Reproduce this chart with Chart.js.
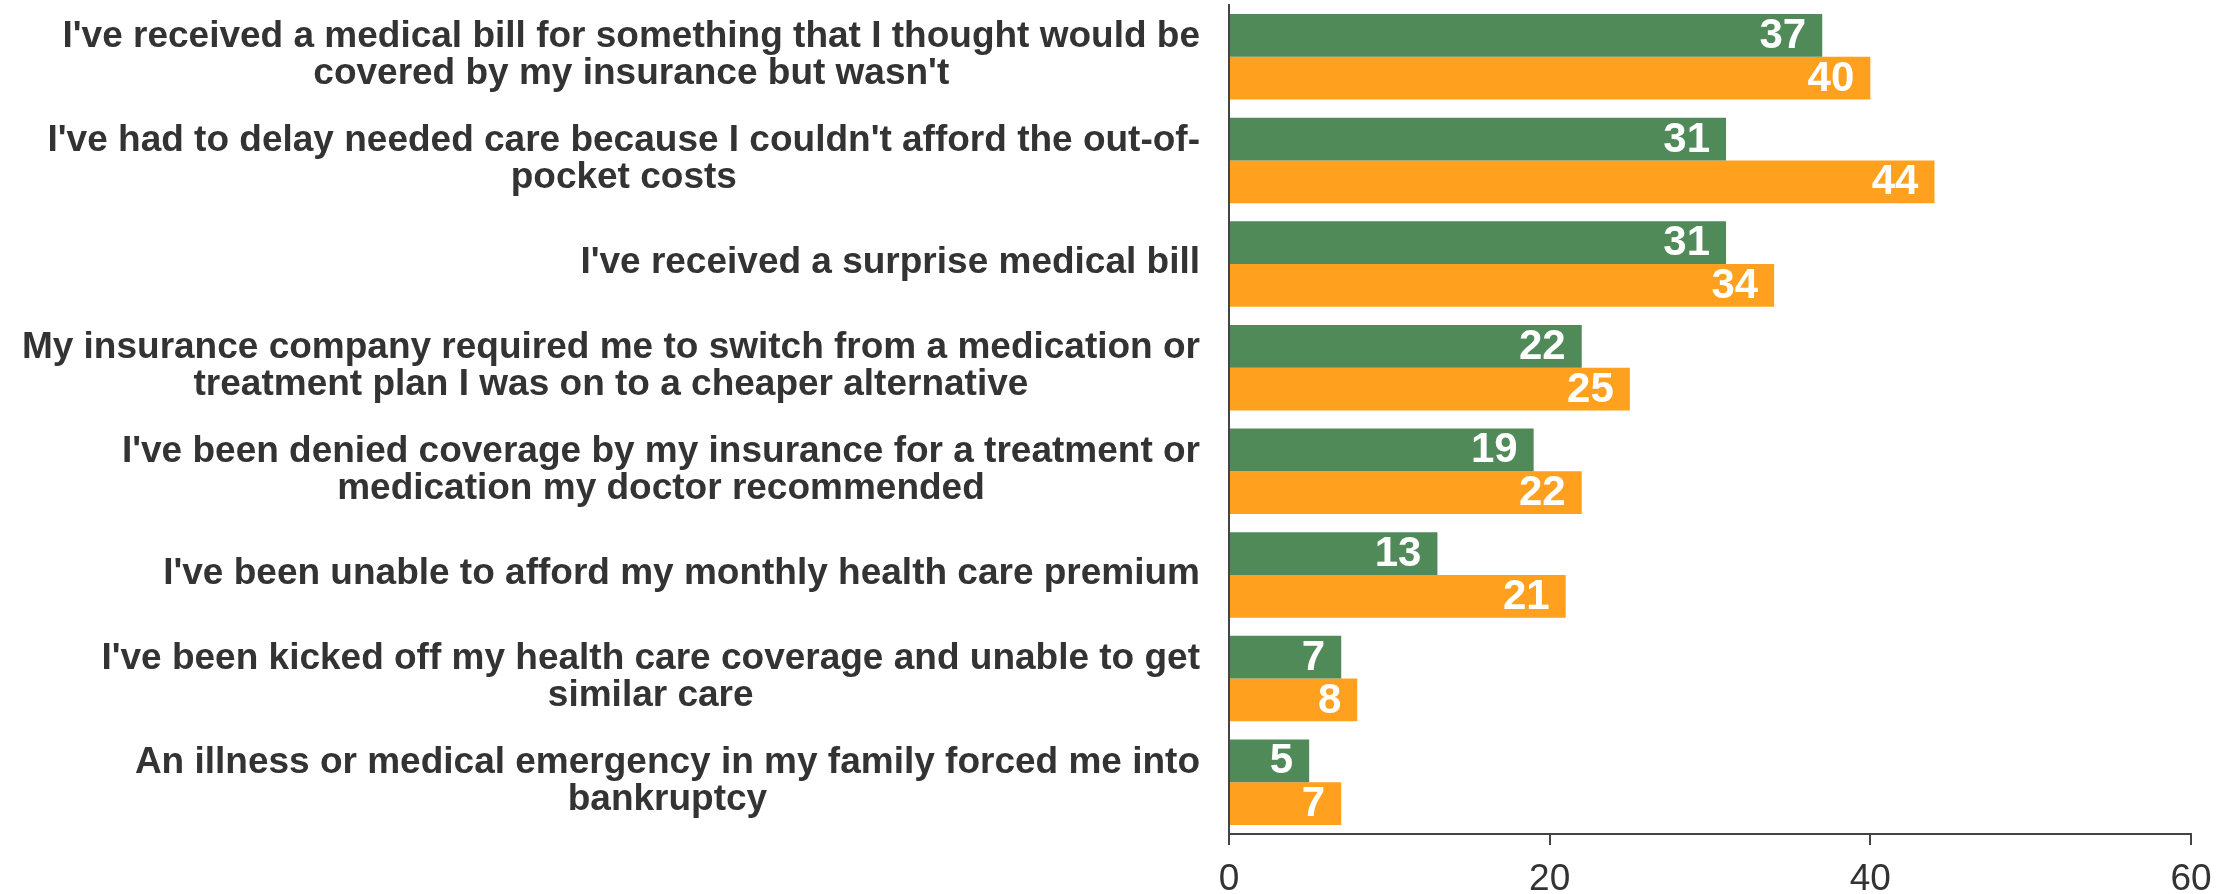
<!DOCTYPE html>
<html>
<head>
<meta charset="utf-8">
<script src="https://cdn.jsdelivr.net/npm/chart.js@4/dist/chart.umd.min.js"></script>
<style>
  html, body { margin: 0; padding: 0; background: #ffffff; }
  #wrap { width: 2225px; height: 894px; }
</style>
</head>
<body>
<div id="wrap"><canvas id="chart" width="2225" height="894"></canvas></div>
<script>
// Survey items (each entry is a list of display lines)
const categories = [
  ["I've received a medical bill for something that I thought would be", "covered by my insurance but wasn't"],
  ["I've had to delay needed care because I couldn't afford the out-of-", "pocket costs"],
  ["I've received a surprise medical bill"],
  ["My insurance company required me to switch from a medication or", "treatment plan I was on to a cheaper alternative"],
  ["I've been denied coverage by my insurance for a treatment or", "medication my doctor recommended"],
  ["I've been unable to afford my monthly health care premium"],
  ["I've been kicked off my health care coverage and unable to get", "similar care"],
  ["An illness or medical emergency in my family forced me into", "bankruptcy"]
];

// Percent of respondents, two groups
const greenValues  = [37, 31, 31, 22, 19, 13, 7, 5];
const orangeValues = [40, 44, 34, 25, 22, 21, 8, 7];

// Value axis ticks
const xTicks = [0, 20, 40, 60];

const FONT = "'Liberation Sans', Arial, Helvetica, sans-serif";
const TEXT = '#333333';
const AXIS = '#444444';

Chart.defaults.font.family = FONT;

// White value labels drawn inside the end of each bar
const barValueLabels = {
  id: 'barValueLabels',
  afterDatasetsDraw(chart) {
    const ctx = chart.ctx;
    ctx.save();
    ctx.font = 'bold 42px ' + FONT;
    ctx.fillStyle = '#ffffff';
    ctx.textAlign = 'right';
    ctx.textBaseline = 'middle';
    chart.data.datasets.forEach((ds, di) => {
      const meta = chart.getDatasetMeta(di);
      meta.data.forEach((bar, i) => {
        ctx.fillText(String(ds.data[i]), bar.x - 16, bar.y + 1);
      });
    });
    ctx.restore();
  }
};

// Category labels: each block right-aligned to the axis, lines centred within the block
const categoryLabels = {
  id: 'categoryLabels',
  afterDraw(chart) {
    const ctx = chart.ctx;
    const yScale = chart.scales.y;
    const right = chart.chartArea.left - 29;
    const lineH = 37;
    ctx.save();
    ctx.font = 'bold 37px ' + FONT;
    ctx.fillStyle = TEXT;
    ctx.textAlign = 'center';
    ctx.textBaseline = 'alphabetic';
    chart.data.labels.forEach((lines, i) => {
      const cy = yScale.getPixelForTick(i);
      const widest = Math.max(...lines.map(l => ctx.measureText(l).width));
      const cx = right - widest / 2;
      const n = lines.length;
      lines.forEach((line, k) => {
        const y = cy + 9 + (k - (n - 1) / 2) * lineH;
        ctx.fillText(line, cx, y);
      });
    });
    ctx.restore();
  }
};

new Chart(document.getElementById('chart'), {
  type: 'bar',
  data: {
    labels: categories,
    datasets: [
      { label: 'Group 1', data: greenValues,  backgroundColor: '#508A58', borderWidth: 0 },
      { label: 'Group 2', data: orangeValues, backgroundColor: '#FFA01F', borderWidth: 0 }
    ]
  },
  options: {
    indexAxis: 'y',
    responsive: false,
    animation: false,
    events: [],
    categoryPercentage: 0.826,
    barPercentage: 1.0,
    layout: { padding: { top: 5, right: 34, left: 0, bottom: 0 } },
    plugins: {
      legend: { display: false },
      tooltip: { enabled: false }
    },
    scales: {
      y: {
        type: 'category',
        offset: true,
        grid: { display: false },
        border: { display: true, color: AXIS, width: 2 },
        ticks: { display: false },
        afterFit(scale) { scale.width = 1229; }
      },
      x: {
        type: 'linear',
        min: xTicks[0],
        max: xTicks[xTicks.length - 1],
        afterBuildTicks(scale) { scale.ticks = xTicks.map(v => ({ value: v })); },
        grid: {
          drawOnChartArea: false,
          drawTicks: true,
          tickLength: 11,
          color: AXIS,
          lineWidth: 2
        },
        border: { display: true, color: AXIS, width: 2 },
        ticks: {
          color: TEXT,
          font: { size: 37, family: FONT },
          padding: 13,
          maxRotation: 0
        },
        afterFit(scale) { scale.height = 60; }
      }
    }
  },
  plugins: [barValueLabels, categoryLabels]
});
</script>
</body>
</html>
